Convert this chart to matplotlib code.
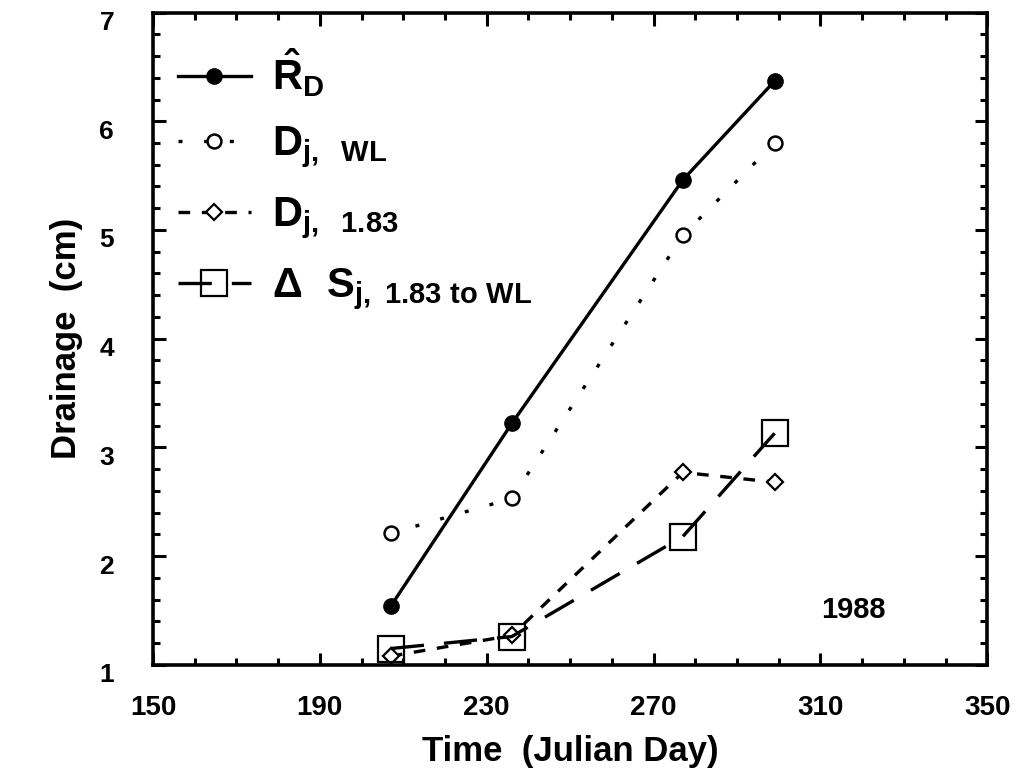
import matplotlib
matplotlib.use("Agg")
import matplotlib.pyplot as plt
import matplotlib.transforms as mtransforms
from matplotlib.ticker import MultipleLocator

plt.rcParams['font.family'] = ['Liberation Sans', 'DejaVu Sans']
plt.rcParams['font.weight'] = 'bold'
plt.rcParams['mathtext.fontset'] = 'custom'
plt.rcParams['mathtext.rm'] = 'Liberation Sans:bold'
plt.rcParams['mathtext.it'] = 'Liberation Sans:bold'
plt.rcParams['mathtext.bf'] = 'Liberation Sans:bold'
plt.rcParams['mathtext.sf'] = 'Liberation Sans:bold'

# Data
days = [207, 236, 277, 299]
r_d = [1.54, 3.22, 5.46, 6.37]
d_wl = [2.21, 2.53, 4.95, 5.80]
d_183 = [1.08, 1.27, 2.77, 2.68]
delta_s = [1.15, 1.26, 2.18, 3.13]

labels = [r'$\hat{R}_D$', r'$D_{j,\ \ WL}$', r'$D_{j,\ \ 1.83}$', r'$\Delta\ \ S_{j,\ 1.83\ to\ WL}$']
xticks = [150, 190, 230, 270, 310, 350]

fig = plt.figure(figsize=(10.2, 7.84), dpi=100)
ax = fig.add_axes([0.150, 0.152, 0.818, 0.832])

ax.plot(days, r_d, color='black', lw=2.4, ls='-', marker='o', ms=11,
        mfc='black', mec='black', label=labels[0])
ax.plot(days, d_wl, color='black', lw=2.4, ls=(0, (1.2, 6.5)), marker='o', ms=10,
        mfc='white', mec='black', mew=1.8, label=labels[1])
ax.plot(days, d_183, color='black', lw=2.4, ls=(0, (3.5, 3.5)), marker='D', ms=8,
        mfc='white', mec='black', mew=1.6, label=labels[2])
ax.plot(days, delta_s, color='black', lw=2.4, ls=(0, (10, 6)), marker='s', ms=19,
        mfc='none', mec='black', mew=1.6, label=labels[3])

ax.set_xlim(150, 350)
ax.set_ylim(1, 7)
ax.set_xticks(xticks)
ax.xaxis.set_minor_locator(MultipleLocator(10))
ax.yaxis.set_major_locator(MultipleLocator(1))
ax.yaxis.set_minor_locator(MultipleLocator(0.2))

for s in ax.spines.values():
    s.set_linewidth(2.6)

ax.tick_params(which='both', direction='in', top=True, right=True, width=2.2)
ax.tick_params(which='major', length=9)
ax.tick_params(which='minor', length=5)
ax.tick_params(axis='x', which='major', labelsize=20, pad=22)
ax.tick_params(axis='y', which='major', labelsize=19, pad=28)
shift = mtransforms.ScaledTranslation(0, -8 / 100, fig.dpi_scale_trans)
for t in ax.get_yticklabels():
    t.set_transform(t.get_transform() + shift)
for t in ax.get_xticklabels() + ax.get_yticklabels():
    t.set_fontweight('bold')

ax.set_xlabel('Time  (Julian Day)', fontsize=25, fontweight='bold', labelpad=10)
ax.set_ylabel('Drainage  (cm)', fontsize=25, fontweight='bold', labelpad=12)

ax.text(318, 1.5, '1988', fontsize=21, fontweight='bold', ha='center', va='center')

leg = ax.legend(loc='upper left', frameon=False, fontsize=30, handlelength=1.75,
                handletextpad=0.5, labelspacing=0.6, borderaxespad=0.2,
                bbox_to_anchor=(0.0, 0.985))

fig.savefig('out.png', dpi=100)
